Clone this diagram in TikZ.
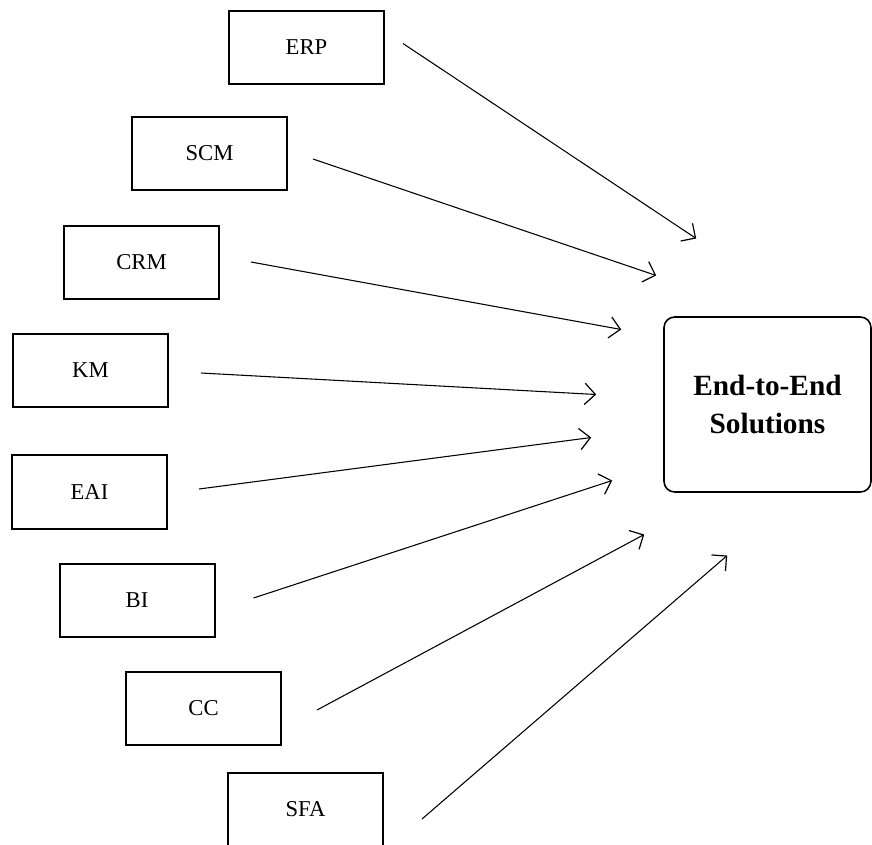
\documentclass[tikz,border=0pt]{standalone}
\usepackage{fontspec}
\setmainfont{Liberation Serif}
\usetikzlibrary{arrows.meta,calc}
\tikzset{
  src/.style={draw, line width=1.5pt, minimum width=116.25pt, minimum height=55pt, inner sep=0pt, font=\fontsize{17}{19}\selectfont},
  goal/.style={draw, line width=1.2pt, rounded corners=8pt, inner sep=0pt, align=center, font=\fontsize{22}{28.5}\selectfont\bfseries},
  arr/.style={line width=0.8pt, -{Straight Barb[length=8pt,width=16pt,line width=0.9pt]}}
}
\begin{document}
\begin{tikzpicture}[x=0.75pt,y=-0.75pt]
\useasboundingbox (0,0) rectangle (872,844);
\clip (0,0) rectangle (872,844);
% source boxes (pixel corners)
\node[src] (erp) at (306.5,47.5) {ERP};
\node[src] (scm) at (209.5,153.5) {SCM};
\node[src] (crm) at (141.5,262.5) {CRM};
\node[src] (km)  at (90.5,370.5) {KM};
\node[src] (eai) at (89.5,492) {EAI};
\node[src] (bi)  at (137,600.5) {BI};
\node[src] (cc)  at (203.5,708.5) {CC};
\node[src] (sfa) at (305.5,809.5) {SFA};
% target
\node[goal, minimum width=155.25pt, minimum height=131.25pt] (sol) at (767.5,404.5) {End-to-End\\Solutions};
% connectors
\draw[arr] ($(erp.east)+(18,-4)$) -- ($(sol.west)+(33,-166)$);
\draw[arr] ($(scm.east)+(25,5.5)$) -- ($(sol.west)+(-7,-129)$);
\draw[arr] ($(crm.east)+(31,-0.5)$) -- ($(sol.west)+(-42,-75)$);
\draw[arr] ($(km.east)+(32,2.5)$) -- ($(sol.west)+(-67,-10)$);
\draw[arr] ($(eai.east)+(31,-3)$) -- ($(sol.west)+(-72,33)$);
\draw[arr] ($(bi.east)+(38,-2.5)$) -- ($(sol.west)+(-51,76)$);
\draw[arr] ($(cc.east)+(35,1.5)$) -- ($(sol.west)+(-19,130)$);
\draw[arr] ($(sfa.east)+(38,9.5)$) -- ($(sol.west)+(64,151)$);
\end{tikzpicture}
\end{document}
